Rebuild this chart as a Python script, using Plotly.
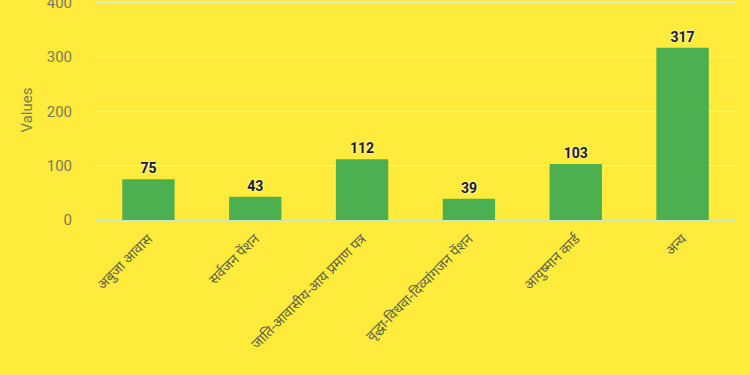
import plotly.graph_objects as go

categories = ["अबुजा आवास", "सर्वजन पेंशन", "जाति-आवासीय-आय प्रमाण पत्र",
              "वृद्धा-विधवा-दिव्यांगजन पेंशन", "आयुष्मान कार्ड", "अन्य"]
values = [75, 43, 112, 39, 103, 317]
y_ticks = [0, 100, 200, 300, 400]

fig = go.Figure(go.Bar(
    x=categories, y=values,
    marker=dict(color="#4CAF50", line=dict(width=0)),
    text=[str(v) for v in values], textposition="outside",
    textfont=dict(family="Roboto", size=14, color="#1a1a2e", weight="bold",
                  shadow="0px 0px 3px white"),
    cliponaxis=False,
))

fig.update_layout(
    width=750, height=375,
    paper_bgcolor="#FFEB3B", plot_bgcolor="#FFEB3B",
    margin=dict(l=95, r=14, t=0, b=155),
    bargap=0.51,
    showlegend=False,
    font=dict(family="Roboto, Noto Sans", color="#666666"),
)
fig.update_xaxes(tickangle=-45, tickfont=dict(size=14, color="#5f5f4f"),
                 showgrid=False, showline=False, ticks="", ticklabelstandoff=7,
                 automargin=False)
fig.update_yaxes(range=[0, 405], tickvals=y_ticks, tickfont=dict(size=15, color="#7a7a5a"),
                 gridcolor="rgba(235,235,225,0.85)", gridwidth=1,
                 zeroline=True, zerolinecolor="rgba(200,230,210,0.9)", zerolinewidth=2,
                 title=dict(text="Values", font=dict(size=15, color="#7a7a5a"), standoff=10),
                 ticks="", showline=False, ticklabelstandoff=22, ticklabeloverflow="allow",
                 automargin=False)

fig.write_html("out.html")
